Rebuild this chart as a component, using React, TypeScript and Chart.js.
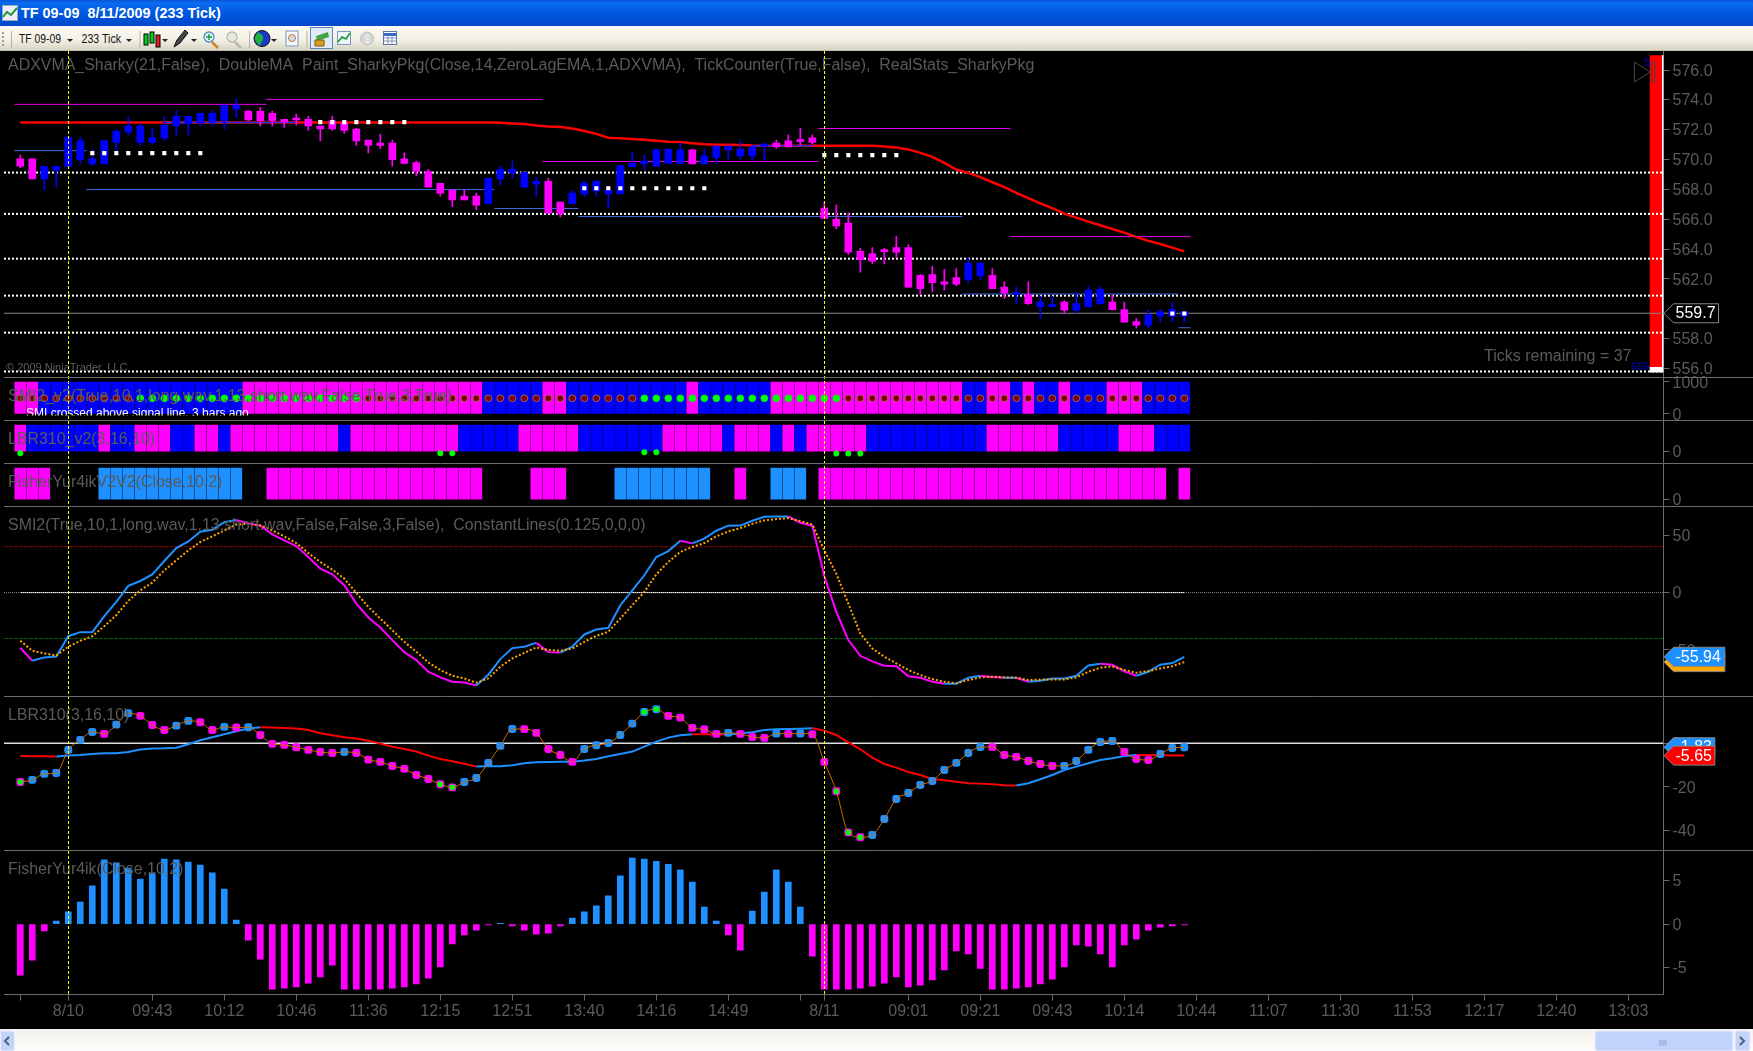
import React, { useEffect, useRef } from "react";
import { Chart, registerables } from "chart.js";

Chart.register(...registerables);

// ---------- price panel ----------
const highs = [570.3,570.05,569.55,569.55,571.5,571.5,570.7,571.3,572.0,572.85,572.4,572.1,572.85,573.3,572.9,573.1,573.25,573.65,574.05,573.3,573.5,573.25,572.7,573.05,572.9,572.25,572.9,572.6,572.1,571.3,571.7,571.3,570.45,569.9,569.35,568.4,567.95,567.95,567.75,568.75,569.55,569.9,569.15,568.8,568.75,567.15,567.95,568.6,568.6,567.95,569.6,570.5,570.3,570.7,570.7,571.1,570.7,570.7,570.9,570.9,571.25,570.9,571.1,571.3,571.65,572.1,571.65,567.15,566.95,566.4,564.05,564.1,564.05,564.85,564.3,562.3,562.85,562.65,562.7,563.4,563.1,562.7,561.8,561.45,561.8,560.85,560.85,560.55,561.1,561.5,561.45,560.9,560.45,559.35,559.95,559.95,560.45,559.8];
const bodyTops = [570.05,570.05,569.55,569.55,571.5,571.25,570.05,571.25,571.9,572.25,572.25,571.45,572.3,572.9,572.9,573.1,573.1,573.65,573.65,573.25,573.25,573.1,572.7,572.7,572.7,572.25,572.6,572.45,572.05,571.3,571.1,571.1,570.05,569.8,569.2,568.4,567.95,567.55,567.55,568.75,569.35,569.35,569.15,568.55,568.55,567.15,567.75,568.4,568.55,567.95,569.6,569.75,569.9,570.65,570.7,570.65,570.65,570.25,570.9,570.9,570.7,570.85,570.95,571.1,571.25,571.25,571.45,566.75,566.0,565.75,563.85,563.7,563.87,564.1,564.1,562.25,562.3,561.8,562.1,563.05,563.05,562.25,561.45,561.05,560.95,560.45,560.2,560.45,560.35,561.25,561.3,560.45,559.95,559.15,559.6,559.8,559.95,559.8];
const bodyBottoms = [569.55,568.7,568.7,569.3,569.55,570.0,569.7,569.7,571.15,571.85,571.15,571.15,571.45,572.25,572.4,572.45,572.5,572.6,573.4,572.65,572.6,572.6,572.5,572.65,572.25,572.05,572.05,571.95,571.25,570.95,570.95,570.0,569.75,569.2,568.15,567.75,567.3,567.3,566.95,567.05,568.7,569.1,568.15,568.35,566.4,566.35,567.05,567.7,567.9,567.7,567.7,569.5,569.7,569.55,569.75,569.75,569.7,569.7,570.15,570.65,570.25,570.25,570.9,570.85,570.85,571.2,571.15,566.05,565.55,563.8,563.3,563.2,563.83,563.8,561.45,561.35,561.75,561.65,561.65,561.95,562.2,561.35,561.05,560.95,560.35,560.15,560.15,559.9,559.9,560.15,560.35,559.95,559.1,558.9,558.9,559.5,559.5,559.5];
const lows = [569.45,568.7,567.95,568.15,569.35,569.75,569.6,569.7,570.65,571.65,570.95,571.05,571.25,571.65,571.65,572.25,572.25,572.05,572.85,572.6,572.25,572.25,572.15,572.3,571.95,571.25,571.95,571.75,570.95,570.45,570.75,569.55,569.7,568.9,568.15,567.55,566.85,567.3,566.65,567.05,568.3,568.75,568.15,567.55,566.4,566.15,567.05,567.5,567.55,566.75,567.7,569.5,569.3,569.55,569.75,569.75,569.7,569.7,569.75,570.05,570.05,569.95,569.95,570.75,570.85,570.95,571.05,566.05,565.35,563.65,562.45,563.0,563.0,563.45,561.45,560.95,561.15,561.25,561.55,561.75,561.95,561.35,560.7,560.35,560.3,559.35,560.15,559.7,559.7,560.1,560.3,559.9,559.1,558.7,558.7,559.1,559.15,559.1];
// value,count runs: 1 = blue bar, 0 = magenta bar
const candleDirRuns = [0,2,1,17,0,20,1,5,0,2,1,10,0,1,1,6,0,16,1,2,0,2,1,1,0,1,1,2,0,1,1,3,0,3,1,4];
const adxvma = [572.49,572.49,572.49,572.49,572.49,572.49,572.49,572.49,572.49,572.49,572.49,572.49,572.49,572.49,572.49,572.49,572.49,572.49,572.49,572.49,572.49,572.49,572.49,572.49,572.49,572.49,572.49,572.49,572.49,572.49,572.49,572.49,572.49,572.49,572.49,572.49,572.49,572.49,572.49,572.49,572.46,572.42,572.38,572.28,572.22,572.18,572.08,571.92,571.72,571.46,571.42,571.37,571.32,571.26,571.2,571.17,571.1,571.03,571.0,571.0,570.97,570.94,570.93,570.92,570.92,570.92,570.92,570.92,570.92,570.93,570.93,570.93,570.88,570.81,570.68,570.45,570.18,569.78,569.33,569.11,568.82,568.48,568.15,567.77,567.41,567.07,566.74,566.38,566.11,565.84,565.6,565.35,565.1,564.81,564.55,564.34,564.1,563.85];
const flatStarts = [12, 61];
const flatEnds = [23, 66];
const flatLevels = [572.48, 570.92];
const dottedLevels = [569.13, 566.36, 563.36, 560.88, 558.40, 555.8];
const lastPrice = 559.7;
const magentaStarts = [-0.5, 20.5, 43.5, 66.5, 82.5];
const magentaEnds = [20.5, 43.5, 66.5, 82.5, 97.5];
const magentaLevels = [573.7, 574.03, 569.87, 572.08, 564.84];
const blueStarts = [-0.5, 5.5, 39.5, 46.5, 78.5, 96.5];
const blueEnds = [5.5, 39.5, 46.5, 78.5, 96.5, 97.5];
const blueLevels = [570.6, 567.99, 566.72, 566.18, 560.99, 558.73];
const whiteStarts = [6, 25, 47, 67, 96];
const whiteEnds = [15, 32, 57, 73, 97];
const whiteLevels = [570.43, 572.51, 568.08, 570.3, 559.69];
const stripX = 136.29;
const stripWhiteX = 136.85;
const stripTop = 576.96;
const stripMid = 556.13;
const stripBottom = 555.76;

// ---------- signal strips ----------
const dotRuns = [0,10,1,19,0,23,1,17,0,29];
const lbrV2Runs = [0,1,1,6,0,1,1,2,0,3,1,2,0,2,1,1,0,9,1,1,0,9,1,5,0,5,1,7,0,5,1,1,0,3,1,1,0,1,1,1,0,5,1,10,0,6,1,5,0,3,1,3];
const fisherV2Runs = [-1,3,0,4,1,12,0,2,-1,18,0,4,-1,3,0,4,1,8,0,2,-1,1,0,2,1,3,0,1,-1,29,0,1,-1,1];
const lbrV2CrossIdx = [0, 35, 36, 52, 53, 68, 69, 70];
const lbrV2CrossVal = [-60, -60, -60, -20, -20, -70, -70, -70];

// ---------- SMI ----------
const smi = [-48.1,-59.4,-56.5,-55.7,-38.0,-34.5,-34.5,-20.6,-8.1,5.8,10.1,15.9,27.5,38.8,44.6,53.0,54.8,61.4,63.2,60.3,58.3,50.7,45.5,40.6,31.0,20.9,15.9,6.4,-9.6,-21.7,-30.4,-41.4,-51.9,-58.8,-69.0,-73.9,-77.7,-78.3,-80.9,-71.6,-58.0,-48.4,-47.2,-43.8,-51.9,-52.2,-47.2,-36.5,-32.2,-30.7,-11.0,2.0,15.1,31.0,36.2,45.2,42.9,47.0,53.9,58.3,58.4,62.6,66.1,66.4,66.4,60.9,58.3,14.5,-16.8,-41.4,-55.1,-60.0,-63.8,-64.1,-73.0,-74.2,-77.7,-79.4,-79.4,-74.2,-72.5,-73.6,-74.2,-74.2,-77.7,-76.8,-74.8,-74.8,-72.5,-63.5,-62.0,-62.9,-68.7,-72.5,-69.0,-62.9,-61.4,-55.94];
const smiSignal = [-42.0,-50.7,-53.0,-54.8,-47.2,-42.0,-38.0,-29.3,-19.7,-7.2,2.0,8.7,19.4,28.1,36.8,44.1,49.0,54.2,59.4,60.0,58.6,54.2,49.0,43.2,34.5,26.7,20.0,12.2,-0.3,-12.5,-22.6,-32.8,-42.9,-51.6,-60.9,-67.5,-72.5,-74.8,-78.6,-74.8,-64.6,-57.4,-52.5,-47.8,-50.1,-50.7,-48.7,-42.9,-37.7,-34.2,-22.6,-11.0,0.6,15.9,26.7,35.4,39.7,43.2,49.0,53.3,56.2,60.0,62.9,64.1,64.9,62.3,59.4,36.8,16.5,-9.6,-35.7,-48.7,-55.9,-61.7,-67.5,-71.9,-75.4,-77.7,-79.1,-76.2,-73.9,-73.3,-73.9,-74.2,-76.2,-75.9,-75.7,-75.7,-73.9,-69.0,-65.5,-64.3,-67.5,-69.9,-68.4,-66.1,-64.1,-60.6];
const smiBands = [40, 0, -40];

// ---------- LBR310 ----------
const lbrFast = [-17.75,-16.8,-14.05,-13.6,-3.05,1.55,5.2,4.3,8.55,13.75,12.55,8.4,6.1,8.1,10.25,9.65,6.1,7.5,7.2,7.35,3.8,-0.3,-0.75,-1.85,-3.05,-4.0,-4.45,-4.0,-4.45,-7.5,-8.55,-10.4,-11.75,-14.55,-16.35,-18.8,-20.2,-17.75,-15.9,-9.0,-1.2,6.55,6.5,4.75,-2.6,-5.35,-8.55,-2.6,-0.9,0.15,3.8,9.0,14.35,15.6,12.55,11.75,7.05,6.4,4.3,4.75,4.3,2.9,2.45,4.45,4.3,4.45,4.15,-8.55,-22.0,-40.85,-43.1,-42.05,-34.7,-25.55,-22.8,-19.1,-17.3,-12.25,-9.0,-4.45,-1.7,-1.75,-5.35,-6.25,-8.1,-9.5,-10.4,-10.35,-8.1,-3.05,0.6,1.05,-4.0,-7.2,-7.65,-4.9,-2.15,-1.83];
const lbrSlow = [-5.8,-5.95,-6.0,-6.05,-5.65,-5.35,-4.9,-4.6,-4.55,-4.0,-2.9,-2.45,-2.3,-2.0,-0.45,1.4,2.75,4.15,5.5,6.75,7.35,7.2,7.05,6.75,6.1,4.6,3.65,2.75,2.15,1.2,-0.15,-1.55,-2.6,-3.8,-5.65,-7.2,-8.25,-9.35,-10.7,-10.55,-10.5,-10.1,-9.15,-8.7,-8.55,-8.5,-8.45,-7.95,-7.2,-5.95,-4.9,-3.8,-1.55,0.75,2.6,3.65,4.15,4.1,4.05,4.0,4.6,5.05,6.1,6.4,6.55,6.7,6.9,5.8,3.8,0.45,-2.75,-6.55,-9.5,-11.15,-13.15,-14.55,-16.35,-17.0,-17.6,-18.35,-18.5,-18.8,-19.25,-19.4,-18.35,-16.5,-14.55,-12.25,-10.7,-9.15,-7.65,-6.9,-5.8,-5.35,-5.4,-5.5,-5.6,-5.65];
const lbrCrossIdx = [0, 35, 36, 52, 53, 68, 69, 70];

// ---------- Fisher ----------
const fisher = [-5.9,-4.15,-0.8,0.35,1.4,2.55,4.4,7.4,7.05,6.45,5.2,5.9,7.5,7.4,7.15,6.8,5.9,4.05,0.45,-1.85,-4.05,-7.5,-7.4,-7.25,-6.8,-6.1,-4.75,-7.5,-7.5,-7.5,-7.5,-7.4,-7.25,-6.9,-6.25,-4.95,-2.3,-1.25,-0.7,-0.1,0.08,-0.2,-0.7,-1.15,-1.05,-0.2,0.7,1.4,2.1,3.25,5.55,7.6,7.5,7.25,6.9,6.25,4.85,1.95,0.35,-1.25,-3.0,1.5,3.7,6.25,4.85,1.95,-3.7,-7.5,-7.5,-7.5,-7.4,-7.15,-6.8,-6.1,-7.25,-7.05,-6.45,-5.3,-3.1,-3.45,-5.1,-7.5,-7.5,-7.4,-7.25,-6.9,-6.35,-4.95,-2.4,-2.55,-3.45,-4.95,-2.4,-1.75,-0.7,-0.35,-0.2,-0.1];

// ---------- axes ----------
const sessionBreaks = [4, 67];
const xTickIndex = [0,4,11,17,23,29,35,41,47,53,59,65,67,74,80,86,92,98,104,110,116,122,128,134];
const xTickLabels = ["","8/10","09:43","10:12","10:46","11:36","12:15","12:51","13:40","14:16","14:49","","8/11","09:01","09:21","09:43","10:14","10:44","11:07","11:30","11:53","12:17","12:40","13:03"];
const priceTicks = [556,558,562,564,566,568,570,572,574,576];
const smiStripTicks = [0, 1000];
const lbrStripTicks = [0];
const fisherStripTicks = [0];
const smiTicks = [-50, 0, 50];
const lbrTicks = [-40, -20, 0];
const fisherTicks = [-5, 0, 5];

const titles = {
  price: "ADXVMA_Sharky(21,False),  DoubleMA  Paint_SharkyPkg(Close,14,ZeroLagEMA,1,ADXVMA),  TickCounter(True,False),  RealStats_SharkyPkg",
  smiStrip: "SMI2_v2(True,10,1,long.wav,1,13,short.wav,False,True,3,True)",
  lbrStrip: "LBR310_v2(3,16,10)",
  fisherStrip: "FisherYur4ikV2V2(Close,10,2)",
  smi: "SMI2(True,10,1,long.wav,1,13,short.wav,False,False,3,False),  ConstantLines(0.125,0,0,0)",
  lbr: "LBR310(3,16,10)",
  fisher: "FisherYur4ik(Close,10,2)",
};

const BLUE = "#0000FF";
const DODGER = "#1E90FF";
const MAGENTA = "#FF00FF";
const RED = "#FF0000";
const ORANGE = "#FFA500";
const LIME = "#00FF00";
const AXIS = "#6a6a6a";
const TEXT = "#5a5a5a";
const FONT = '"Liberation Sans", Arial, sans-serif';
const X_MIN = -1.358;
const X_MAX = 136.93;

const expand = (runs: number[]) => {
  const out: number[] = [];
  for (let i = 0; i < runs.length; i += 2) for (let k = 0; k < runs[i + 1]; k++) out.push(runs[i]);
  return out;
};
const pts = (ys: (number | null)[]) => ys.map((y, x) => ({ x, y }));
const segs = (starts: number[], ends: number[], levels: number[]) => {
  const out: any[] = [];
  starts.forEach((s, k) => {
    out.push({ x: s, y: levels[k] }, { x: ends[k], y: levels[k] }, { x: ends[k], y: null });
  });
  return out;
};
const hline = (v: number, from = X_MIN, to = X_MAX) => [{ x: from, y: v }, { x: to, y: v }];

const candleDir = expand(candleDirRuns);
const dotState = expand(dotRuns);
const lbrV2 = expand(lbrV2Runs);
const fisherV2 = expand(fisherV2Runs);

const line = (yAxisID: string, data: any[], order: number, extra: any = {}) => ({
  type: "line", yAxisID, xAxisID: "x", data, order, pointRadius: 0, borderWidth: 1, fill: false, spanGaps: false, ...extra,
});
const bar = (yAxisID: string, data: any[], order: number, color: any, barThickness: number, extra: any = {}) => ({
  type: "bar", yAxisID, xAxisID: "x", data, order, backgroundColor: color, borderWidth: 0, barThickness, grouped: false, ...extra,
});

const candleColors = candleDir.map((d) => (d ? BLUE : MAGENTA));

const datasets: any[] = [
  bar("yPrice", [{ x: stripX, y: [stripMid, stripTop] }], 100, RED, 11.6),
  bar("yPrice", [{ x: stripX, y: [stripBottom, stripMid] }], 100, "#FFFFFF", 11.6),
  bar("yPrice", [{ x: stripWhiteX, y: [stripBottom, stripTop] }], 100, "#FFFFFF", 2),
  ...dottedLevels.map((v) => line("yPrice", hline(v), 90, { borderColor: "#FFFFFF", borderWidth: 2, borderDash: [2, 2] })),
  line("yPrice", hline(lastPrice), 89, { borderColor: "#8a8a8a" }),
  line("yPrice", segs(magentaStarts, magentaEnds, magentaLevels), 80, { borderColor: "#E800E8", borderWidth: 1 }),
  line("yPrice", segs(blueStarts, blueEnds, blueLevels), 80, { borderColor: "#4169E1", borderWidth: 1 }),
  line("yPrice", pts(adxvma), 70, { borderColor: RED, borderWidth: 2.5 }),
  line("yPrice", segs(flatStarts, flatEnds, flatLevels), 65, { borderColor: "#1A2FE0", borderWidth: 1.5 }),
  bar("yPrice", highs.map((h, i) => ({ x: i, y: [lows[i], h] })), 60, candleColors, 1),
  bar("yPrice", bodyTops.map((t, i) => ({ x: i, y: [bodyBottoms[i], t] })), 59, candleColors, 7, { minBarLength: 2 }),
  ...whiteStarts.map((s, k) => {
    const d: any[] = [];
    for (let i = s; i <= whiteEnds[k]; i++) d.push({ x: i, y: whiteLevels[k] });
    return line("yPrice", d, 49, { showLine: false, pointRadius: 2.9, pointStyle: "rect", pointBackgroundColor: "#FFFFFF", pointBorderWidth: 0 });
  }),

  bar("ySmiStrip", candleDir.map((_, i) => ({ x: i, y: [0, 1000] })), 40, candleColors, 11),
  line("ySmiStrip", dotState.map((_, i) => ({ x: i, y: 490 })), 39, {
    showLine: false, pointRadius: 3.4,
    pointBackgroundColor: dotState.map((s) => (s ? LIME : "#800000")),
    pointBorderColor: dotState.map((s) => (s ? LIME : "#A8785A")), pointBorderWidth: 0.8,
  }),
  bar("yLbrStrip", lbrV2.map((_, i) => ({ x: i, y: [0, 1000] })), 38, lbrV2.map((s) => (s ? BLUE : MAGENTA)), 11),
  line("yLbrStrip", lbrV2CrossIdx.map((x, k) => ({ x, y: lbrV2CrossVal[k] })), 37, { showLine: false, pointRadius: 3, pointBackgroundColor: LIME, pointBorderWidth: 0 }),
  bar("yFisherStrip", fisherV2.map((s, i) => ({ x: i, y: s === 0 ? null : [0, 1000] })), 36, fisherV2.map((s) => (s > 0 ? DODGER : MAGENTA)), 11),

  line("ySmi", hline(smiBands[0]), 30, { borderColor: "#8B0000", borderDash: [4, 1] }),
  line("ySmi", hline(smiBands[1]), 30, { borderColor: "#888888", borderDash: [1, 1] }),
  line("ySmi", hline(smiBands[1], 0, 97), 30, { borderColor: "#FFFFFF" }),
  line("ySmi", hline(smiBands[2]), 30, { borderColor: "#006400", borderDash: [4, 1] }),
  line("ySmi", pts(smi), 29, {
    borderWidth: 2, borderColor: DODGER,
    segment: { borderColor: (c: any) => (c.p1.parsed.y >= c.p0.parsed.y ? DODGER : MAGENTA) },
  }),
  line("ySmi", pts(smiSignal), 28, { borderWidth: 2, borderColor: ORANGE, borderDash: [2, 2] }),

  line("yLbr", hline(0), 20, { borderColor: "#DDDDDD", borderWidth: 1.5 }),
  line("yLbr", pts(lbrSlow), 19, {
    borderWidth: 2, borderColor: RED,
    segment: { borderColor: (c: any) => (c.p1.parsed.y > c.p0.parsed.y ? DODGER : RED) },
  }),
  line("yLbr", pts(lbrFast), 18, {
    borderWidth: 0, borderColor: "rgba(0,0,0,0)", showLine: false, pointRadius: 4.6, pointStyle: "rectRounded", pointBorderWidth: 0,
    pointBackgroundColor: lbrFast.map((v, i) => (i > 0 && v > lbrFast[i - 1] ? DODGER : MAGENTA)),
  }),
  line("yLbr", pts(lbrFast), 17, { borderWidth: 1, borderColor: "#CC6A00", cubicInterpolationMode: "monotone" }),
  line("yLbr", lbrCrossIdx.map((x) => ({ x, y: lbrFast[x] })), 16, { showLine: false, pointRadius: 2.8, pointBackgroundColor: LIME, pointBorderWidth: 0 }),

  bar("yFisher", fisher.map((v, i) => ({ x: i, y: [0, v] })), 10, fisher.map((v) => (v >= 0 ? DODGER : MAGENTA)), 6),
];

const fitY = (scale: any) => {
  scale.width = 89.5;
  scale.paddingTop = 0;
  scale.paddingBottom = 0;
};
const fitX = (scale: any) => {
  scale.height = 34.5;
  scale.paddingLeft = 0;
  scale.paddingRight = 0;
};
const yAxis = (weight: number, px: number, min: number, max: number, ticks: number[], fmt: (v: number) => string) => ({
  type: "linear", position: "right", stack: "panels", stackWeight: px, weight, min, max,
  afterBuildTicks: (s: any) => { s.ticks = ticks.map((value) => ({ value })); },
  afterFit: fitY,
  grid: { drawOnChartArea: false, drawTicks: true, tickLength: 6, color: AXIS, lineWidth: 1, offset: false },
  border: { display: true, color: AXIS, width: 1 },
  ticks: { autoSkip: false, color: TEXT, padding: 3, labelOffset: 1.2, maxRotation: 0, font: { family: FONT, size: 16 }, callback: (v: any) => fmt(Number(v)) },
});

const panelTitles: [string, string, number][] = [
  ["yPrice", titles.price, 15],
  ["ySmiStrip", titles.smiStrip, 20],
  ["yLbrStrip", titles.lbrStrip, 20],
  ["yFisherStrip", titles.fisherStrip, 20],
  ["ySmi", titles.smi, 20],
  ["yLbr", titles.lbr, 20],
  ["yFisher", titles.fisher, 20],
];

const tag = (ctx: any, y: number, w: number, fill: string, stroke: string, text: string, color = "#FFFFFF") => {
  const x0 = 1664, x1 = 1673.5, h = 9.5;
  ctx.beginPath();
  ctx.moveTo(x0, y);
  ctx.lineTo(x1, y - h);
  ctx.lineTo(x1 + w, y - h);
  ctx.lineTo(x1 + w, y + h);
  ctx.lineTo(x1, y + h);
  ctx.closePath();
  ctx.fillStyle = fill;
  ctx.fill();
  ctx.strokeStyle = stroke;
  ctx.lineWidth = 1;
  ctx.stroke();
  if (text) {
    ctx.fillStyle = color;
    ctx.font = `16px ${FONT}`;
    ctx.textAlign = "left";
    ctx.textBaseline = "middle";
    ctx.fillText(text, x1 + 2, y + 0.5);
  }
};

const overlay = {
  id: "overlay",
  afterDatasetsDraw(chart: any) {
    const { ctx, scales } = chart;
    const x = scales.x;
    ctx.save();
    ctx.textBaseline = "middle";
    ctx.textAlign = "left";

    ctx.fillStyle = TEXT;
    ctx.font = `15.95px ${FONT}`;
    panelTitles.forEach(([id, text, dy]) => ctx.fillText(text, 8, scales[id].top + dy));

    // strip message, cut off by the bottom of the strip
    ctx.save();
    ctx.beginPath();
    ctx.rect(0, scales.ySmiStrip.top, 1660, scales.ySmiStrip.getPixelForValue(0) + 1.5 - scales.ySmiStrip.top);
    ctx.clip();
    ctx.fillStyle = "#FFFFFF";
    ctx.font = `12px ${FONT}`;
    ctx.fillText("SMI crossed above signal line, 3 bars ago", 26, scales.ySmiStrip.getPixelForValue(0));
    ctx.restore();

    const price = scales.yPrice;
    ctx.fillStyle = "#5e5e5e";
    ctx.font = `11px ${FONT}`;
    ctx.fillText("\u00A9 2009 NinjaTrader, LLC", 6, price.bottom - 9.5);
    ctx.font = `16px ${FONT}`;
    ctx.fillStyle = TEXT;
    ctx.fillText("Ticks remaining = 37", 1484, price.bottom - 20);
    ctx.fillStyle = "#00008B";
    ctx.font = `bold 11px ${FONT}`;
    ctx.fillText("656", 1631, price.bottom - 10);
    ctx.fillText("5", 1644, price.top + 12);
    ctx.strokeStyle = "#444444";
    ctx.lineWidth = 1;
    ctx.beginPath();
    ctx.moveTo(1634.5, price.top + 11);
    ctx.lineTo(1650, price.top + 21);
    ctx.lineTo(1634.5, price.top + 31);
    ctx.closePath();
    ctx.stroke();
    ctx.strokeRect(1651.5, price.top + 11, 3, 20);

    // session break lines
    ctx.strokeStyle = "#FFFF00";
    ctx.lineWidth = 1;
    ctx.setLineDash([3, 2]);
    sessionBreaks.forEach((i) => {
      const px = Math.round(x.getPixelForValue(i)) + 0.5;
      ctx.beginPath();
      ctx.moveTo(px, price.top);
      ctx.lineTo(px, x.top);
      ctx.stroke();
    });
    ctx.setLineDash([]);

    // panel dividers
    ctx.strokeStyle = AXIS;
    ctx.lineWidth = 1;
    ["yPrice", "ySmiStrip", "yLbrStrip", "yFisherStrip", "ySmi", "yLbr"].forEach((id) => {
      const y = Math.round(scales[id].bottom) + 0.5;
      ctx.beginPath();
      ctx.moveTo(4, y);
      ctx.lineTo(1753, y);
      ctx.stroke();
    });

    // last value tags
    tag(ctx, price.getPixelForValue(lastPrice), 45, "#000000", "#888888", String(lastPrice));
    tag(ctx, scales.ySmi.getPixelForValue(smiSignal[smiSignal.length - 1]), 51.3, ORANGE, "#888888", "");
    tag(ctx, scales.ySmi.getPixelForValue(smi[smi.length - 1]), 51.3, DODGER, "#888888", smi[smi.length - 1].toFixed(2));
    tag(ctx, scales.yLbr.getPixelForValue(lbrFast[lbrFast.length - 1]), 41.3, DODGER, "#888888", lbrFast[lbrFast.length - 1].toFixed(2));
    tag(ctx, scales.yLbr.getPixelForValue(lbrSlow[lbrSlow.length - 1]), 41.3, RED, "#888888", lbrSlow[lbrSlow.length - 1].toFixed(2));
    ctx.restore();
  },
};

function TitleBar() {
  return (
    <div style={{ position: "absolute", left: 0, top: 0, width: 1753, height: 26, background: "linear-gradient(#0a55d8 0%, #0a6cf0 12%, #0058e0 50%, #0048c8 100%)", color: "#fff", fontFamily: FONT, fontWeight: "bold", fontSize: 14.4, lineHeight: "26px", whiteSpace: "pre" }}>
      <svg width="16" height="16" style={{ position: "absolute", left: 2, top: 5 }}>
        <rect x="0.5" y="0.5" width="15" height="15" fill="#eef" stroke="#9ab" />
        <polyline points="1,12 5,7 9,10 15,3" fill="none" stroke="#1a9a30" strokeWidth="2" />
      </svg>
      <span style={{ position: "absolute", left: 21, top: 0 }}>{"TF 09-09  8/11/2009 (233 Tick)"}</span>
    </div>
  );
}

function ToolBar() {
  const sep = (x: number) => <line x1={x} y1="5" x2={x} y2="22" stroke="#b5b3a3" />;
  const arrow = (x: number, y = 13) => <polygon points={`${x - 3},${y} ${x + 3},${y} ${x},${y + 3}`} fill="#222" />;
  const lens = (x: number, c: string, plus: boolean) => (
    <g>
      <line x1={x + 8} y1="16" x2={x + 14} y2="22" stroke={plus ? "#d08030" : "#b8b8b0"} strokeWidth="2.5" />
      <circle cx={x + 5} cy="11" r="5" fill={plus ? "#e6f6ff" : "#e8e8e2"} stroke={c} strokeWidth="1.3" />
      {plus && <path d={`M${x + 2} 11h6M${x + 5} 8v6`} stroke="#1a9a30" strokeWidth="1.4" />}
    </g>
  );
  return (
    <div style={{ position: "absolute", left: 0, top: 26, width: 1753, height: 25, background: "linear-gradient(#fbfaf5, #f3f1e6 55%, #d8d5c4 96%, #a8a694)" }}>
      <svg width="420" height="25" style={{ position: "absolute", left: 0, top: 0, fontFamily: FONT }}>
        <path d="M3 6v2M3 10v2M3 14v2M3 18v2" stroke="#a0a090" strokeWidth="2" />
        {sep(11.5)}
        <text x="19" y="17" fontSize="12" fill="#111" textLength="42" lengthAdjust="spacingAndGlyphs">TF 09-09</text>
        {arrow(70)}
        <text x="81.5" y="17" fontSize="12" fill="#111" textLength="39.5" lengthAdjust="spacingAndGlyphs">233 Tick</text>
        {arrow(129)}
        {sep(140)}
        <rect x="144" y="8" width="4" height="11" fill="#00d020" stroke="#000" />
        <rect x="150" y="6" width="4" height="11" fill="#00d020" stroke="#000" />
        <rect x="156" y="9" width="4" height="12" fill="#e02020" stroke="#000" />
        {arrow(165)}
        <path d="M174 21l3-7 8-10 3 3-8 10z" fill="#444" stroke="#111" />
        {arrow(194)}
        {lens(204, "#5a8ac0", true)}
        {lens(227, "#b8b8b0", false)}
        {sep(249.5)}
        <circle cx="262" cy="12.5" r="8" fill="#1a3ac8" stroke="#111" />
        <path d="M258 6c3 3 6 3 5 7s-3 4-3 7c-3-3-6-6-5-9z" fill="#20b040" />
        {arrow(274)}
        <rect x="286" y="5" width="12" height="15" fill="#f4f8ff" stroke="#7a96b8" />
        <circle cx="292" cy="12" r="3.5" fill="#cde" stroke="#d07a20" />
        {sep(307)}
        <rect x="310.5" y="1.5" width="22" height="21" fill="#dfeaf6" stroke="#5a86b8" />
        <path d="M316 10l12-4 1 5-12 4z" fill="#40a840" />
        <path d="M315 14h9v6h-9z" fill="#d8a020" stroke="#7a5a10" />
        <rect x="337.5" y="5.5" width="13" height="13" fill="#eef4fb" stroke="#7a96b8" />
        <polyline points="338,16 342,11 346,13 350,7" fill="none" stroke="#1a9a30" strokeWidth="1.6" />
        <circle cx="367" cy="12.5" r="6.5" fill="#d6d6d2" stroke="#c0c0bc" />
        <text x="367" y="16.5" fontSize="11" textAnchor="middle" fill="#eeeeea">$</text>
        <rect x="383.5" y="5.5" width="13" height="13" fill="#fff" stroke="#5a76a8" />
        <path d="M384 8.5h12" stroke="#3a6ac8" strokeWidth="3" />
        <path d="M384 12h12M384 15h12M388 9v9M392 9v9" stroke="#7a96b8" />
      </svg>
    </div>
  );
}

function ScrollBar() {
  return (
    <div style={{ position: "absolute", left: 0, top: 1029, width: 1753, height: 22, background: "linear-gradient(#f3f2ec, #fdfdfb)" }}>
      <svg width="1753" height="22" style={{ position: "absolute", left: 0, top: 0 }}>
        <rect x="0.5" y="2" width="14" height="20" rx="2" fill="#c3d4f8" stroke="#e8eeff" />
        <path d="M9 8l-4 4 4 4" fill="none" stroke="#4d6185" strokeWidth="2" />
        <rect x="1595" y="2" width="138" height="20" rx="2" fill="#c1d3fb" stroke="#e8eeff" />
        <path d="M1660 11v6M1662 11v6M1664 11v6M1666 11v6" stroke="#8ea6d8" />
        <rect x="1735" y="2" width="15" height="20" rx="2" fill="#c3d4f8" stroke="#e8eeff" />
        <path d="M1740 8l4 4-4 4" fill="none" stroke="#4d6185" strokeWidth="2" />
      </svg>
    </div>
  );
}

export default function App() {
  const ref = useRef<HTMLCanvasElement | null>(null);
  useEffect(() => {
    document.body.style.margin = "0";
    document.body.style.overflow = "hidden";
    const chart = new Chart(ref.current as HTMLCanvasElement, {
      type: "line",
      data: { datasets },
      plugins: [overlay],
      options: {
        animation: false,
        responsive: false,
        devicePixelRatio: 1,
        events: [],
        layout: { autoPadding: false, padding: { left: 4, right: 0, top: 0, bottom: 0 } },
        plugins: { legend: { display: false }, tooltip: { enabled: false } },
        scales: {
          x: {
            type: "linear", position: "bottom", min: X_MIN, max: X_MAX, offset: false,
            afterBuildTicks: (s: any) => { s.ticks = xTickIndex.map((value) => ({ value })); },
            afterFit: fitX,
            grid: { drawOnChartArea: false, drawTicks: true, tickLength: 6, color: AXIS, offset: false },
            border: { display: true, color: AXIS, width: 1 },
            ticks: {
              autoSkip: false, maxRotation: 0, minRotation: 0, color: TEXT, padding: 1, font: { family: FONT, size: 16 },
              callback: (v: any) => xTickLabels[xTickIndex.indexOf(Number(v))] ?? "",
            },
          },
          yPrice: yAxis(1, 326, 555.43, 577.275, priceTicks, (v) => v.toFixed(1)),
          ySmiStrip: yAxis(2, 42.5, -172, 1156, smiStripTicks, String),
          yLbrStrip: yAxis(3, 43, -404, 1206, lbrStripTicks, String),
          yFisherStrip: yAxis(4, 43, -183, 1173, fisherStripTicks, String),
          ySmi: yAxis(5, 190, -89.7, 75.9, smiTicks, String),
          yLbr: yAxis(6, 154, -48.7, 21.9, lbrTicks, String),
          yFisher: yAxis(7, 145, -8.12, 8.6, fisherTicks, String),
        } as any,
      } as any,
    } as any);
    return () => chart.destroy();
  }, []);
  return (
    <div style={{ position: "relative", width: 1753, height: 1051, overflow: "hidden", background: "#000" }}>
      <TitleBar />
      <ToolBar />
      <canvas ref={ref} width={1753} height={978} style={{ position: "absolute", left: 0, top: 51, display: "block", background: "#000" }} />
      <ScrollBar />
    </div>
  );
}
